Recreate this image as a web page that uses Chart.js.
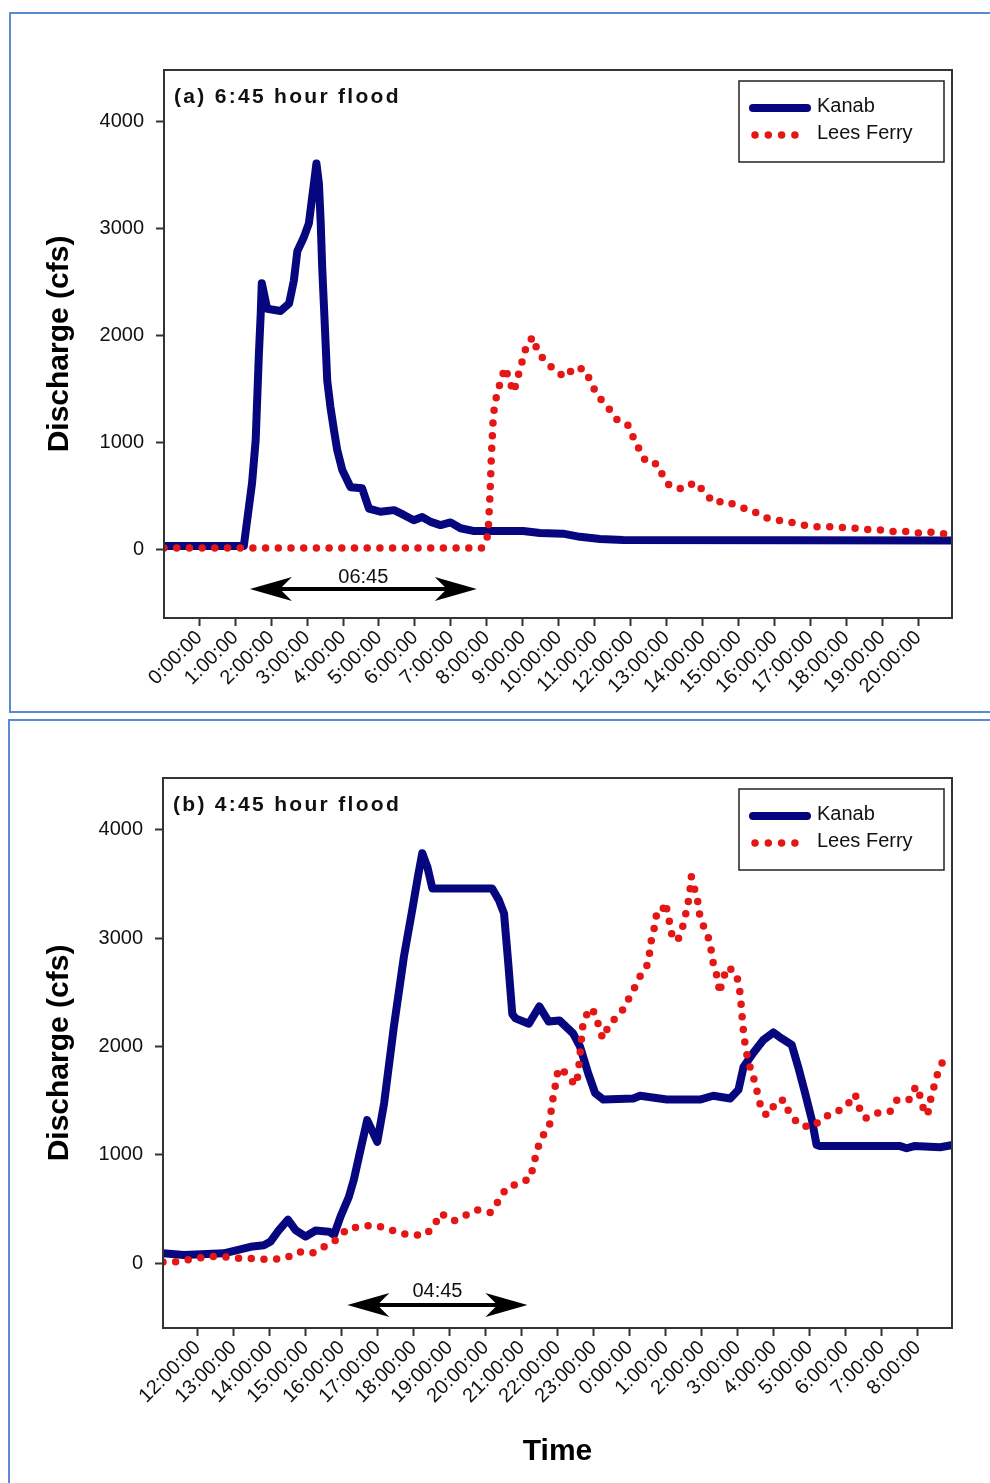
<!DOCTYPE html>
<html>
<head>
<meta charset="utf-8">
<script src="https://cdn.jsdelivr.net/npm/chart.js@4.4.1/dist/chart.umd.min.js"></script>
<style>
  html, body { margin: 0; padding: 0; background: #fff; overflow: hidden; width: 990px; height: 1483px; }
  .panel { position: absolute; box-sizing: border-box; border: 2px solid #5b8ad0; width: 1000px; }
  canvas { position: absolute; left: 0; }
</style>
</head>
<body>
<div class="panel" style="left:9px; top:12px; height:701px;"></div>
<div class="panel" style="left:8px; top:719px; height:800px;"></div>
<canvas id="floodA" width="990" height="696" style="top:14px; width:990px; height:696px;"></canvas>
<canvas id="floodB" width="990" height="761" style="top:722px; width:990px; height:761px;"></canvas>
<script>
// ---- data (hours from first tick, discharge in cfs) ----
const tickHours = [0, 1, 2, 3, 4, 5, 6, 7, 8, 9, 10, 11, 12, 13, 14, 15, 16, 17, 18, 19, 20];
const floodATickLabels = ["0:00:00", "1:00:00", "2:00:00", "3:00:00", "4:00:00", "5:00:00", "6:00:00",
  "7:00:00", "8:00:00", "9:00:00", "10:00:00", "11:00:00", "12:00:00", "13:00:00", "14:00:00",
  "15:00:00", "16:00:00", "17:00:00", "18:00:00", "19:00:00", "20:00:00"];
const floodBTickLabels = ["12:00:00", "13:00:00", "14:00:00", "15:00:00", "16:00:00", "17:00:00",
  "18:00:00", "19:00:00", "20:00:00", "21:00:00", "22:00:00", "23:00:00", "0:00:00", "1:00:00",
  "2:00:00", "3:00:00", "4:00:00", "5:00:00", "6:00:00", "7:00:00", "8:00:00"];
const cfsTicks = [0, 1000, 2000, 3000, 4000];

// (a) 6:45 hour flood
const kanabATime = [-0.98, 1.24, 1.38, 1.47, 1.57, 1.66, 1.71, 1.74, 1.89, 2.26, 2.5, 2.63, 2.73, 2.91,
  3.05, 3.19, 3.26, 3.33, 3.38, 3.42, 3.47, 3.52, 3.56, 3.65, 3.75, 3.84, 3.98, 4.21, 4.53, 4.72,
  5.04, 5.42, 5.69, 5.97, 6.2, 6.44, 6.71, 6.99, 7.27, 7.62, 9.01, 9.48, 10.12, 10.59, 11.15, 11.79, 20.97];
const kanabAFlow = [30, 30, 390, 620, 1020, 1830, 2200, 2490, 2250, 2230, 2300, 2510, 2790, 2920,
  3050, 3420, 3610, 3420, 3050, 2640, 2270, 1890, 1580, 1330, 1110, 925, 740, 580, 570, 380,
  350, 365, 320, 270, 300, 255, 225, 250, 195, 170, 170, 150, 145, 115, 95, 85, 80];
const leesATime = [-0.98, 7.85, 7.99, 8.04, 8.09, 8.13, 8.18, 8.23, 8.32, 8.41, 8.52, 8.6, 8.75, 8.85,
  8.94, 9.04, 9.15, 9.29, 9.41, 9.62, 9.89, 10.17, 10.45, 10.75, 10.9, 11.1, 11.42, 11.66, 11.93,
  12.07, 12.23, 12.43, 12.75, 12.91, 13.09, 13.46, 13.79, 14.09, 14.3, 14.64, 15.02, 15.37, 15.69,
  16.08, 16.41, 16.8, 17.13, 17.5, 17.82, 18.24, 18.56, 18.93, 19.31, 19.63, 20.0, 20.33, 20.7, 20.94];
const leesAFlow = [10, 10, 70, 180, 520, 900, 1240, 1380, 1490, 1610, 1700, 1600, 1470, 1600,
  1700, 1835, 1940, 1985, 1850, 1760, 1675, 1610, 1705, 1675, 1550, 1430, 1305, 1195, 1160,
  1050, 940, 815, 795, 675, 590, 560, 625, 525, 435, 450, 395, 365, 300,
  270, 255, 225, 210, 210, 205, 195, 185, 180, 165, 165, 150, 160, 145, 140];

// (b) 4:45 hour flood (hour 0 = 12:00:00)
const kanabBTime = [-0.96, -0.38, 0.73, 1.47, 1.84, 2.03, 2.26, 2.51, 2.72, 3.0, 3.28, 3.65, 3.79, 3.97,
  4.2, 4.34, 4.48, 4.71, 4.99, 5.18, 5.45, 5.73, 5.96, 6.12, 6.24, 6.38, 6.52, 8.18, 8.37, 8.51,
  8.62, 8.74, 8.83, 9.2, 9.49, 9.75, 10.05, 10.43, 10.62, 10.85, 11.04, 11.27, 12.1, 12.29, 13.03,
  13.95, 14.32, 14.79, 15.02, 15.16, 15.43, 15.71, 15.99, 16.22, 16.5, 16.68, 16.87, 17.06, 17.19,
  17.29, 19.51, 19.69, 19.9, 20.62, 20.97];
const kanabBFlow = [90, 75, 90, 150, 165, 200, 305, 400, 305, 245, 300, 290, 260, 430,
  610, 770, 980, 1320, 1120, 1475, 2180, 2830, 3260, 3570, 3785, 3660, 3460, 3460, 3350, 3230,
  2800, 2300, 2260, 2210, 2370, 2230, 2240, 2120, 2000, 1750, 1570, 1510, 1520, 1545, 1510,
  1510, 1545, 1520, 1600, 1810, 1940, 2060, 2130, 2075, 2015, 1810, 1570, 1320, 1090,
  1080, 1080, 1060, 1080, 1070, 1090];
const leesBTime = [-0.96, -0.75, -0.43, 0.0, 0.31, 0.68, 1.01, 1.38, 1.75, 2.07, 2.44, 2.81, 3.18, 3.51,
  3.88, 4.16, 4.53, 4.9, 5.25, 5.62, 5.96, 6.33, 6.56, 6.75, 7.12, 7.44, 7.77, 8.14, 8.37, 8.57,
  8.9, 9.24, 9.33, 9.42, 9.53, 9.77, 9.81, 9.86, 9.93, 9.97, 10.09, 10.32, 10.51, 10.57, 10.62,
  10.67, 10.71, 10.9, 11.04, 11.13, 11.25, 11.45, 11.75, 11.92, 12.1, 12.29, 12.52, 12.56, 12.61,
  12.7, 12.75, 12.88, 13.0, 13.05, 13.14, 13.19, 13.35, 13.47, 13.56, 13.63, 13.68, 13.71, 13.81,
  13.9, 13.95, 14.09, 14.23, 14.28, 14.34, 14.46, 14.49, 14.58, 14.72, 14.95, 15.04, 15.08, 15.11,
  15.14, 15.18, 15.23, 15.29, 15.42, 15.51, 15.6, 15.71, 15.85, 16.08, 16.29, 16.43, 16.71, 17.06,
  17.42, 17.77, 18.05, 18.26, 18.38, 18.54, 18.86, 19.23, 19.43, 19.77, 19.95, 20.06, 20.16, 20.27,
  20.34, 20.43, 20.53, 20.67, 20.73];
const leesBFlow = [10, 5, 20, 45, 60, 60, 45, 45, 35, 35, 45, 105, 90, 150,
  220, 320, 335, 350, 320, 275, 260, 260, 340, 460, 390, 440, 490, 465, 580, 690,
  735, 780, 910, 1030, 1150, 1260, 1385, 1505, 1630, 1735, 1805, 1705, 1645, 1750, 1930,
  2105, 2230, 2355, 2305, 2200, 2075, 2215, 2305, 2410, 2520, 2650, 2770, 2890, 3000,
  3120, 3235, 3235, 3330, 3225, 3100, 2985, 2995, 3105, 3230, 3345, 3460, 3570, 3445,
  3325, 3200, 3075, 2970, 2845, 2730, 2615, 2490, 2615, 2735, 2680, 2555, 2445, 2320,
  2200, 2075, 1970, 1860, 1735, 1625, 1490, 1385, 1365, 1500, 1505, 1385, 1275, 1255,
  1350, 1400, 1465, 1560, 1430, 1335, 1385, 1400, 1510, 1510, 1635, 1545, 1420, 1365,
  1490, 1605, 1730, 1845, 1905];

const KANAB_BLUE = "#06067e";
const LEES_RED = "#e41616";

// use the narrow face if it is installed, otherwise plain Arial-metric
function narrowAvailable() {
  const c = document.createElement("canvas").getContext("2d");
  c.font = '24px "Liberation Sans Narrow"';
  const w1 = c.measureText("4000 Lees Ferry").width;
  c.font = '24px "Liberation Sans"';
  const w2 = c.measureText("4000 Lees Ferry").width;
  return w1 < w2 * 0.9;
}
const NARROW = narrowAvailable();
const tickFont = NARROW
  ? { family: '"Liberation Sans Narrow", Arial, sans-serif', size: 24 }
  : { family: '"Liberation Sans", Arial, sans-serif', size: 20 };
const tickFontCss = tickFont.size + "px " + tickFont.family;

function pairs(t, q) {
  return t.map(function (x, i) { return { x: x, y: q[i] }; });
}

// frame, panel title, duration arrow and legend drawn on top of the chart
const floodDecor = {
  id: "floodDecor",
  afterDraw: function (chart, args, opts) {
    const ctx = chart.ctx;
    const ca = chart.chartArea;
    const xs = chart.scales.x;
    const ys = chart.scales.y;
    ctx.save();

    ctx.strokeStyle = "#333";
    ctx.lineWidth = 2;
    ctx.strokeRect(ca.left, ca.top, ca.right - ca.left, ca.bottom - ca.top);

    // panel title
    ctx.fillStyle = "#111";
    ctx.font = 'bold 21px "Liberation Sans", Arial, sans-serif';
    ctx.textAlign = "left";
    ctx.textBaseline = "middle";
    if ("letterSpacing" in ctx) ctx.letterSpacing = "2.3px";
    ctx.fillText(opts.title, ca.left + 10, ca.top + 27);
    if ("letterSpacing" in ctx) ctx.letterSpacing = "0px";

    // duration arrow
    const a = opts.span;
    const x0 = xs.getPixelForValue(a.from);
    const x1 = xs.getPixelForValue(a.to);
    const ay = ys.getPixelForValue(a.level);
    ctx.strokeStyle = "#000";
    ctx.fillStyle = "#000";
    ctx.lineWidth = 4;
    ctx.beginPath();
    ctx.moveTo(x0 + 20, ay);
    ctx.lineTo(x1 - 20, ay);
    ctx.stroke();
    [[x0, 1], [x1, -1]].forEach(function (h) {
      ctx.beginPath();
      ctx.moveTo(h[0], ay);
      ctx.lineTo(h[0] + h[1] * 42, ay - 12);
      ctx.lineTo(h[0] + h[1] * 30, ay);
      ctx.lineTo(h[0] + h[1] * 42, ay + 12);
      ctx.closePath();
      ctx.fill();
    });
    ctx.font = tickFontCss;
    ctx.fillStyle = "#111";
    ctx.textAlign = "center";
    ctx.fillText(a.text, (x0 + x1) / 2, ys.getPixelForValue(a.textLevel));

    // legend
    const bw = 205, bh = 81;
    const bx = ca.right - 8 - bw;
    const by = ca.top + 11;
    ctx.fillStyle = "#fff";
    ctx.fillRect(bx, by, bw, bh);
    ctx.strokeStyle = "#222";
    ctx.lineWidth = 1.5;
    ctx.strokeRect(bx, by, bw, bh);
    chart.data.datasets.forEach(function (ds, i) {
      const ly = by + 27 + i * 27;
      ctx.strokeStyle = ds.borderColor;
      ctx.lineWidth = ds.borderWidth;
      ctx.lineCap = "round";
      ctx.beginPath();
      if (ds.borderDash) {
        ctx.setLineDash([0, 13.3]);
        ctx.moveTo(bx + 16, ly);
        ctx.lineTo(bx + 57, ly);
      } else {
        ctx.setLineDash([]);
        ctx.moveTo(bx + 14, ly);
        ctx.lineTo(bx + 68, ly);
      }
      ctx.stroke();
      ctx.setLineDash([]);
      ctx.fillStyle = "#111";
      ctx.textAlign = "left";
      ctx.font = tickFontCss;
      ctx.fillText(ds.label, bx + 78, ly - 2);
    });
    ctx.restore();
  },
};

function floodChart(id, cfg) {
  const ctx = document.getElementById(id).getContext("2d");
  return new Chart(ctx, {
    type: "line",
    data: {
      datasets: [
        {
          label: "Kanab",
          data: pairs(cfg.kanabTime, cfg.kanabFlow),
          borderColor: KANAB_BLUE,
          borderWidth: 8,
          borderJoinStyle: "round",
          borderCapStyle: "round",
          pointRadius: 0,
          tension: 0,
          fill: false,
          order: 1,
        },
        {
          label: "Lees Ferry",
          data: pairs(cfg.leesTime, cfg.leesFlow),
          borderColor: LEES_RED,
          borderWidth: 7.5,
          borderDash: [0, 12.7],
          borderCapStyle: "round",
          pointRadius: 0,
          tension: 0,
          fill: false,
          order: 0,
        },
      ],
    },
    options: {
      responsive: false,
      animation: false,
      events: [],
      layout: { padding: { top: 56, right: 38, left: 0, bottom: 0 } },
      scales: {
        x: {
          type: "linear",
          min: cfg.xMin,
          max: cfg.xMax,
          afterBuildTicks: function (s) {
            s.ticks = tickHours.map(function (v) { return { value: v }; });
          },
          afterFit: function (s) { s.height = cfg.xAxisHeight; },
          border: { display: false },
          grid: { drawOnChartArea: false, drawTicks: true, tickLength: 8, tickWidth: 2, tickColor: "#333" },
          ticks: {
            font: tickFont,
            color: "#111",
            padding: 0,
            autoSkip: false,
            maxRotation: 45,
            minRotation: 45,
            callback: function (v, i) { return cfg.tickLabels[i]; },
          },
          title: {
            display: cfg.showTime,
            text: "Time",
            color: "#000",
            font: { family: '"Liberation Sans", Arial, sans-serif', size: 30, weight: "bold" },
            padding: { top: 0, bottom: 13 },
          },
        },
        y: {
          type: "linear",
          min: cfg.yMin,
          max: cfg.yMax,
          afterBuildTicks: function (s) {
            s.ticks = cfsTicks.map(function (v) { return { value: v }; });
          },
          afterFit: function (s) { s.width = cfg.yAxisWidth; },
          border: { display: false },
          grid: { drawOnChartArea: false, drawTicks: true, tickLength: 8, tickWidth: 2, tickColor: "#333" },
          ticks: {
            font: tickFont,
            color: "#111",
            padding: 12,
            callback: function (v) { return String(v); },
          },
          title: {
            display: true,
            text: "Discharge (cfs)",
            color: "#000",
            font: { family: '"Liberation Sans", Arial, sans-serif', size: 30, weight: "bold" },
            padding: { top: 42, bottom: 0 },
          },
        },
      },
      plugins: {
        legend: { display: false },
        tooltip: { enabled: false },
        floodDecor: { title: cfg.title, span: cfg.span },
      },
    },
    plugins: [floodDecor],
  });
}

floodChart("floodA", {
  title: "(a) 6:45 hour flood",
  kanabTime: kanabATime, kanabFlow: kanabAFlow,
  leesTime: leesATime, leesFlow: leesAFlow,
  tickLabels: floodATickLabels,
  xMin: -0.98, xMax: 20.94,
  yMin: -645, yMax: 4486,
  xAxisHeight: 92, yAxisWidth: 164,
  showTime: false,
  span: { from: 1.41, to: 7.72, level: -374, text: "06:45", textLevel: -262 },
});

floodChart("floodB", {
  title: "(b) 4:45 hour flood",
  kanabTime: kanabBTime, kanabFlow: kanabBFlow,
  leesTime: leesBTime, leesFlow: leesBFlow,
  tickLabels: floodBTickLabels,
  xMin: -0.96, xMax: 20.95,
  yMin: -600, yMax: 4480,
  xAxisHeight: 155, yAxisWidth: 163,
  showTime: true,
  span: { from: 4.16, to: 9.16, level: -388, text: "04:45", textLevel: -259 },
});
</script>
</body>
</html>
